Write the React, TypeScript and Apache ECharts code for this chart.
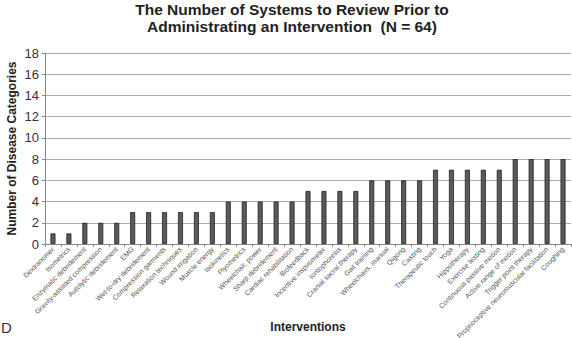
import React, { useEffect, useRef } from "react";
import * as echarts from "echarts";

const categories = [
  "Dextranomer", "Isometrics", "Enzymatic debridement", "Gravity-assisted compression",
  "Autolytic debridement", "EMG", "Wet-to-dry debridement", "Compression garments",
  "Relaxation techniques", "Wound irrigation", "Muscle energy", "Isokinetics",
  "Plyometrics", "Wheelchair, power", "Sharp debridement", "Cardiac rehabilitation",
  "Biofeedback", "Incentive inspirometer", "Iontophoresis", "Cranial sacral therapy",
  "Gait training", "Wheelchairs, manual", "Qigong", "Casting", "Therapeutic touch",
  "Yoga", "Hippotherapy", "Exercise testing", "Continuous passive motion",
  "Active range of motion", "Trigger point therapy",
  "Proprioceptive neuromuscular facilitation", "Coughing",
];
const values = [1, 1, 2, 2, 2, 3, 3, 3, 3, 3, 3, 4, 4, 4, 4, 4, 5, 5, 5, 5, 6, 6, 6, 6, 7, 7, 7, 7, 7, 8, 8, 8, 8];
const titleLines = ["The Number of Systems to Review Prior to", "Administrating an Intervention  (N = 64)"];

export default function App() {
  const ref = useRef<HTMLDivElement>(null);
  useEffect(() => {
    const chart = echarts.init(ref.current!, null, { renderer: "svg" });
    const font = "Liberation Sans, Arial, sans-serif";
    chart.setOption({
      animation: false,
      title: {
        text: titleLines.join("\n"),
        left: 287,
        textAlign: "center",
        top: -4,
        textStyle: { fontFamily: font, fontSize: 15.5, fontWeight: "bold", color: "#222", lineHeight: 17 },
      },
      graphic: [
        { type: "text", left: 1, top: 320, style: { text: "D", font: "15px Liberation Sans, Arial, sans-serif", fill: "#333" } },
      ],
      grid: { left: 45, right: 1, top: 53, bottom: 94, outerBoundsMode: "none" },
      xAxis: {
        type: "category",
        data: categories,
        name: "Interventions",
        nameLocation: "middle",
        nameGap: 77,
        nameMoveOverlap: false,
        nameTextStyle: { fontFamily: font, fontSize: 12, fontWeight: "bold", color: "#222" },
        axisLine: { lineStyle: { color: "#888" } },
        axisTick: { show: true, alignWithLabel: false, length: 3, lineStyle: { color: "#888" } },
        axisLabel: { rotate: 45, interval: 0, fontFamily: font, fontSize: 7, color: "#555", margin: 4 },
      },
      yAxis: {
        type: "value",
        min: 0,
        max: 18,
        interval: 2,
        name: "Number of Disease Categories",
        nameLocation: "middle",
        nameGap: 27,
        nameMoveOverlap: false,
        nameTextStyle: { fontFamily: font, fontSize: 12, fontWeight: "bold", color: "#222" },
        axisLine: { show: true, lineStyle: { color: "#888" } },
        axisTick: { show: true, length: 3, lineStyle: { color: "#888" } },
        axisLabel: { fontFamily: font, fontSize: 13, color: "#333", margin: 6 },
        splitLine: { lineStyle: { color: "#aaa" } },
      },
      series: [
        {
          type: "bar",
          data: values,
          barWidth: 5,
          itemStyle: { color: "#5a5a5a", borderColor: "#222", borderWidth: 0.8 },
        },
      ],
    });
    return () => chart.dispose();
  }, []);
  return <div ref={ref} style={{ width: 572, height: 338, position: "absolute", left: 0, top: 0 }} />;
}
